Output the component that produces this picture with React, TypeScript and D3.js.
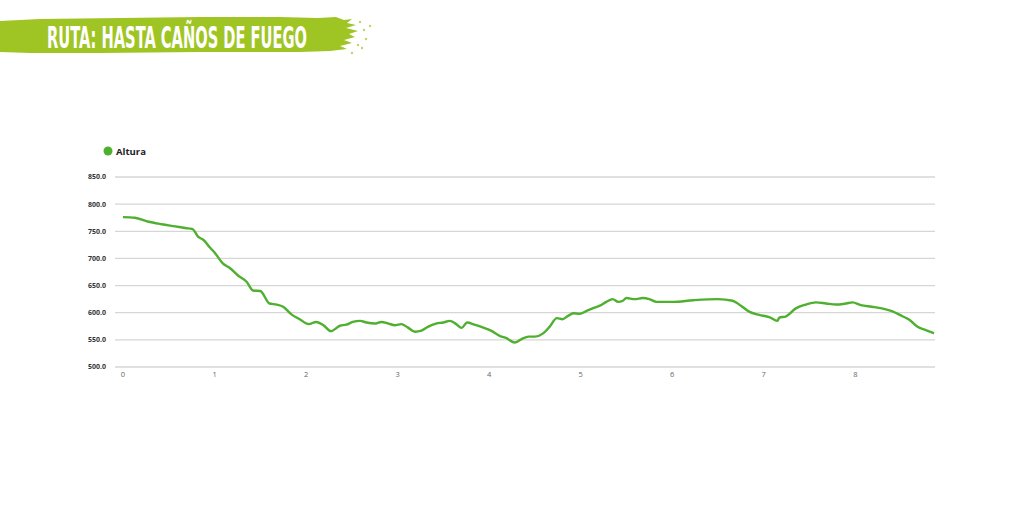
import React from "react";
import * as d3 from "d3";

const distKm = [
  0, 0.13, 0.27, 0.42, 0.57, 0.68, 0.76, 0.82, 0.88, 0.95, 1.0, 1.09, 1.17,
  1.26, 1.35, 1.42, 1.5, 1.6, 1.68, 1.75, 1.84, 1.93, 2.03, 2.11, 2.19, 2.27,
  2.37, 2.44, 2.51, 2.59, 2.66, 2.75, 2.82, 2.9, 2.97, 3.04, 3.11, 3.19, 3.26,
  3.33, 3.42, 3.5, 3.57, 3.64, 3.7, 3.76, 3.84, 3.93, 4.02, 4.12, 4.19, 4.28,
  4.35, 4.43, 4.5, 4.59, 4.66, 4.74, 4.8, 4.86, 4.92, 4.99, 5.06, 5.13, 5.21,
  5.28, 5.35, 5.41, 5.46, 5.5, 5.59, 5.68, 5.75, 5.83, 6.01, 6.23, 6.5, 6.66,
  6.75, 6.84, 6.95, 7.06, 7.15, 7.17, 7.24, 7.35, 7.46, 7.57, 7.68, 7.79, 7.9,
  7.97, 8.06, 8.18, 8.29, 8.4, 8.51, 8.59, 8.68, 8.77, 8.86,
];
const altura = [
  776, 775, 768, 763, 759, 756, 754, 740, 734, 720, 711, 691, 682, 668, 657,
  641, 640, 617, 615, 611, 597, 588, 579, 583, 577, 566, 576, 578, 583, 585,
  582, 580, 583, 580, 577, 579, 573, 565, 567, 574, 580, 582, 585, 579, 572,
  582, 578, 573, 567, 557, 553, 545, 551, 556, 556, 562, 574, 590, 588, 594,
  599, 598, 603, 608, 613, 620, 625, 620, 622, 627, 625, 627, 625, 620, 620,
  623, 625, 622, 613, 602, 596, 592, 585, 591, 593, 608, 615, 619, 617, 615,
  617, 619, 614, 611, 608, 603, 594, 587, 574, 568, 562,
];
const xTicks = [0, 1, 2, 3, 4, 5, 6, 7, 8];
const yTicks = [500, 550, 600, 650, 700, 750, 800, 850];
const title = "RUTA: HASTA CAÑOS DE FUEGO";
const seriesName = "Altura";

const GREEN = "#4fb02f";
const LIME = "#9fc524";

// brush-stroke banner outline
const brush =
  "M0,21 L40,19 L120,18 L200,17 L280,17 L318,18 L336,17 L344,20 L352,19 L347,23 L356,25 L346,28 L358,31 L349,34 L355,37 L344,40 L352,43 L340,46 L347,49 L330,51 L300,52 L200,52 L100,53 L30,53 L0,52 Z";
const specks = [
  [360, 22], [364, 30], [358, 45], [366, 39], [352, 53], [370, 26], [362, 48],
];

export default function App() {
  const x = d3.scaleLinear().domain([0, 8.86]).range([123, 934]);
  const y = d3.scaleLinear().domain([500, 850]).range([367, 177]);
  const pts = distKm.map((d, i) => [d, altura[i]] as [number, number]);
  const line = d3
    .line<[number, number]>()
    .x((d) => x(d[0]))
    .y((d) => y(d[1]))
    .curve(d3.curveMonotoneX);

  return (
    <svg
      width={1024}
      height={525}
      style={{ position: "absolute", left: 0, top: 0, background: "#fff" }}
      fontFamily="'Open Sans', sans-serif"
    >
      <path d={brush} fill={LIME} />
      {specks.map((s, i) => (
        <circle key={i} cx={s[0]} cy={s[1]} r={1.2} fill={LIME} opacity={0.7} />
      ))}
      <text
        x={47}
        y={48}
        fill="#fff"
        fontFamily="'DejaVu Sans Condensed', 'DejaVu Sans', sans-serif"
        fontWeight="bold"
        fontSize={31}
        textLength={260}
        lengthAdjust="spacingAndGlyphs"
      >
        {title}
      </text>

      {/* legend */}
      <circle cx={108} cy={151} r={4.5} fill={GREEN} />
      <text x={116} y={154.5} fontSize={9.5} fontWeight="bold" fill="#222">
        {seriesName}
      </text>

      {/* grid + y labels */}
      {yTicks.map((t) => (
        <g key={t}>
          <line x1={115} x2={935} y1={y(t)} y2={y(t)} stroke="#d6d6d6" strokeWidth={1.3} />
          <text
            x={106}
            y={y(t)}
            dy="0.35em"
            textAnchor="end"
            fontSize={7}
            fontWeight="bold"
            fill="#333"
          >
            {t.toFixed(1)}
          </text>
        </g>
      ))}

      {/* x labels */}
      {xTicks.map((t) => (
        <text
          key={t}
          x={x(t)}
          y={377}
          textAnchor="middle"
          fontSize={7.5}
          fill="#666"
        >
          {t}
        </text>
      ))}

      <path d={line(pts) ?? ""} fill="none" stroke={GREEN} strokeWidth={2.4} strokeLinejoin="round" />
    </svg>
  );
}
